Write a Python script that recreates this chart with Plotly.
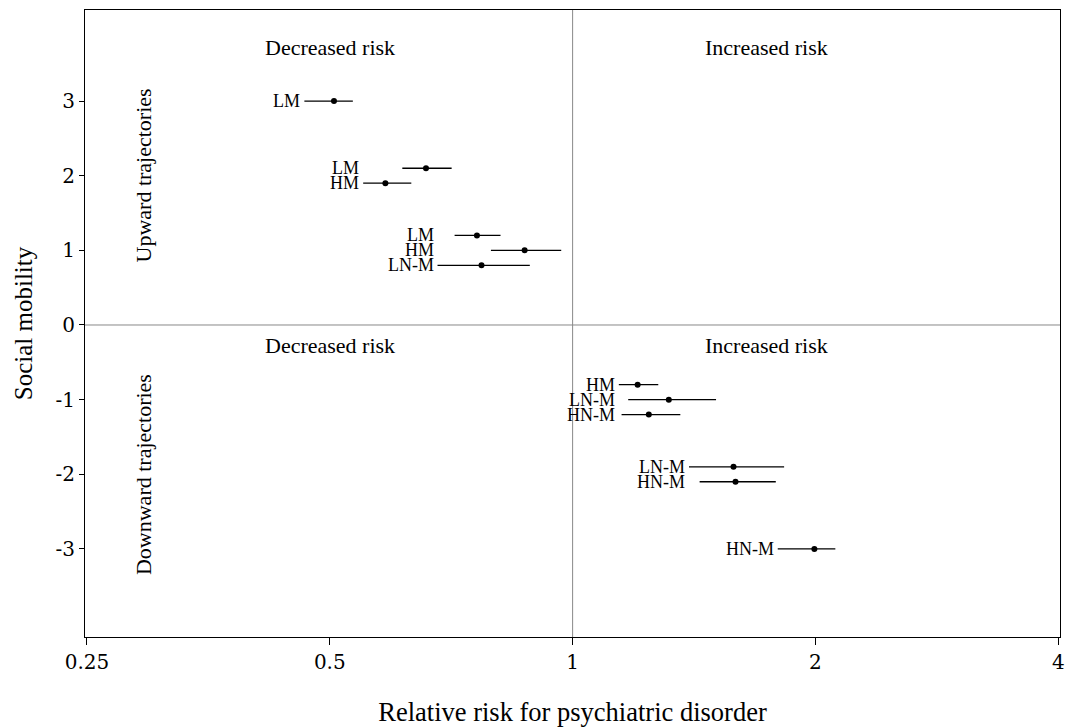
import numpy as np
import plotly.graph_objects as go

# Data
mobility = [3.0, 2.1, 1.9, 1.2, 1.0, 0.8, -0.8, -1.0, -1.2, -1.9, -2.1, -3.0]
group = [3, 2, 2, 1, 1, 1, -1, -1, -1, -2, -2, -3]
labels = ["LM", "LM", "HM", "LM", "HM", "LN-M", "HM", "LN-M", "HN-M", "LN-M", "HN-M", "HN-M"]
rr = [0.506, 0.658, 0.586, 0.761, 0.872, 0.771, 1.204, 1.316, 1.243, 1.583, 1.592, 1.994]
lo = [0.465, 0.615, 0.550, 0.714, 0.792, 0.680, 1.141, 1.172, 1.150, 1.394, 1.437, 1.796]
hi = [0.534, 0.708, 0.631, 0.814, 0.968, 0.885, 1.277, 1.506, 1.360, 1.829, 1.786, 2.117]

x_ticks = [0.25, 0.5, 1, 2, 4]
x_ticktext = ["0.25", "0.5", "1", "2", "4"]
y_ticks = [-3, -2, -1, 0, 1, 2, 3]
y_ticktext = ["-3", "-2", "-1", "0", "1", "2", "3"]

FONT = "Liberation Serif"
TICKFONT = "DejaVu Serif"

fig = go.Figure()

# CI lines
cx, cy = [], []
for l, h, m in zip(lo, hi, mobility):
    cx += [l, h, None]
    cy += [m, m, None]
fig.add_trace(go.Scatter(x=cx, y=cy, mode="lines",
                         line=dict(color="black", width=1.3),
                         hoverinfo="skip", showlegend=False))
# Points
fig.add_trace(go.Scatter(x=rr, y=mobility, mode="markers",
                         marker=dict(color="black", size=6),
                         showlegend=False))

# Reference lines
fig.add_vline(x=1, line=dict(color="#888888", width=1))
fig.add_hline(y=0, line=dict(color="#888888", width=1))

# Point labels, right-aligned left of the group's lowest CI bound
grp_min = {}
for g, l in zip(group, lo):
    grp_min[g] = min(grp_min.get(g, 1e9), l)
for g, m, lab in zip(group, mobility, labels):
    fig.add_annotation(x=np.log10(grp_min[g]), y=m, text=lab, showarrow=False,
                       xanchor="right", yanchor="middle", xshift=-2,
                       font=dict(family=FONT, size=18, color="black"))

# Quadrant texts
for tx, ty, t in [(0.5, 3.72, "Decreased risk"), (1.74, 3.72, "Increased risk"),
                  (0.5, -0.28, "Decreased risk"), (1.74, -0.28, "Increased risk")]:
    fig.add_annotation(x=np.log10(tx), y=ty, text=t, showarrow=False,
                       font=dict(family=FONT, size=22, color="black"))
for ty, t in [(2.0, "Upward trajectories"), (-2.0, "Downward trajectories")]:
    fig.add_annotation(x=np.log10(0.294), y=ty, text=t, showarrow=False, textangle=-90,
                       font=dict(family=FONT, size=22, color="black"))

fig.update_layout(
    width=1066, height=727,
    margin=dict(l=85, r=6, t=10, b=90, autoexpand=False),
    paper_bgcolor="white", plot_bgcolor="white",
    font=dict(family=FONT, color="black"),
    showlegend=False,
)
fig.update_xaxes(type="log", range=[np.log10(0.2486), np.log10(4.02)],
                 tickvals=x_ticks, ticktext=x_ticktext, automargin=False,
                 showgrid=False, zeroline=False,
                 showline=True, mirror=True, linecolor="black", linewidth=1,
                 ticks="outside", ticklen=7, tickcolor="black",
                 tickfont=dict(family=TICKFONT, size=20, color="black"),
                 title=dict(text="Relative risk for psychiatric disorder",
                            font=dict(family=FONT, size=26.5, color="black"), standoff=30))
fig.update_yaxes(range=[-4.18, 4.22], automargin=False,
                 tickvals=y_ticks, ticktext=y_ticktext,
                 showgrid=False, zeroline=False,
                 showline=True, mirror=True, linecolor="black", linewidth=1,
                 ticks="outside", ticklen=5, tickcolor="black",
                 tickfont=dict(family=TICKFONT, size=20, color="black"),
                 title=dict(text="Social mobility",
                            font=dict(family=FONT, size=25, color="black"), standoff=15))

fig.write_html("out.html", config={"displayModeBar": False},
               post_script="document.body.style.margin='0px';document.body.style.overflow='hidden';")
